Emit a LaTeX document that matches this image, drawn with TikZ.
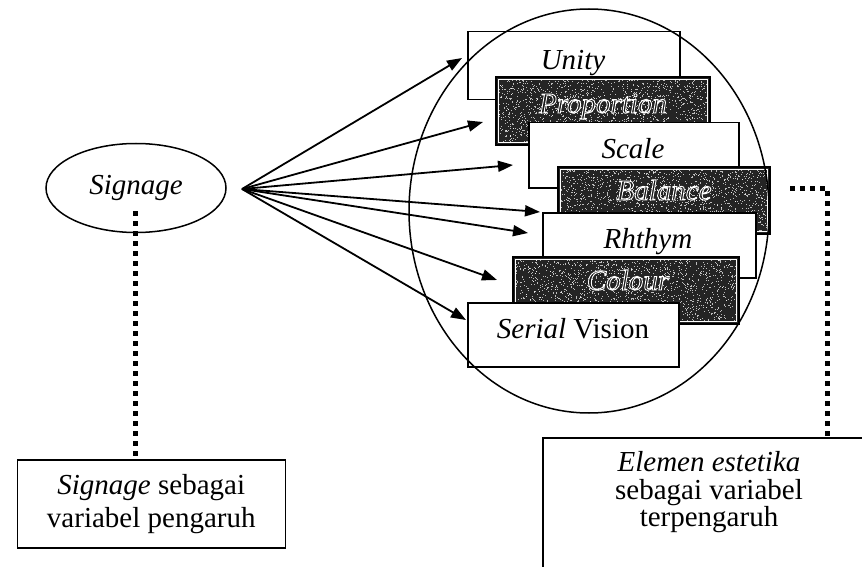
\documentclass[tikz,border=0pt]{standalone}
\usepackage{fontspec}
\setmainfont{Liberation Serif}
\usetikzlibrary{arrows.meta,shapes.geometric,calc}
\definecolor{boxdark}{gray}{0.14}
\begin{document}
\begin{tikzpicture}[x=1pt,y=-1pt,
  lbl/.style={font=\fontsize{29}{30}\selectfont},
  plainbox/.style={draw=black,line width=1.5pt,fill=white,anchor=north west,inner sep=0pt},
  darkbox/.style={draw=black,line width=1.8pt,fill=boxdark,anchor=north west,inner sep=0pt},
  arr/.style={line width=1.8pt,-{Triangle[length=15pt,width=11pt]}},
  dotline/.style={line width=5pt,dash pattern=on 5pt off 5pt},
  ring/.style={draw=black,line width=1.5pt},
  grain/.style={fill=white,opacity=0.7},
]
\useasboundingbox (0,0) rectangle (862,567);
\clip (0,0) rectangle (862,567);
\fill[white] (0,0) rectangle (862,567);
\pgfmathsetseed{4242}

% outlined lettering: dark glyph body stroked with a thin white rim
\newcommand{\rimmed}[1]{{\color{black!90}%
  \special{pdf:literal direct 2 Tr 1 1 1 RG 0.9 w}#1\special{pdf:literal direct 0 Tr}}}

% grainy finish of a dark box: inner white line plus scattered light specks
\newcommand{\grainbox}[1]{%
  \draw[white,line width=0.8pt] ([shift={(3,3)}]#1.north west) rectangle ([shift={(-3,-3)}]#1.south east);
  \begin{scope}
    \clip ([shift={(4,4)}]#1.north west) rectangle ([shift={(-4,-4)}]#1.south east);
    \path (#1.north west) coordinate (gnw) (#1.south east) coordinate (gse);
    \foreach \k in {1,...,1800}
      \fill[grain] ($(gnw)!rnd!(gnw -| gse) + (0,{rnd*70})$) rectangle ++(1,1);
  \end{scope}}

% stacked boxes, back to front
\node[plainbox,minimum width=212pt,minimum height=68pt] (unity) at (467,31) {};
\node[lbl,anchor=base] (unityt) at (573,70) {\textit{Unity}};

\node[darkbox,minimum width=214pt,minimum height=68pt] (prop) at (495,76) {};
\grainbox{prop}
\node[lbl,anchor=base] (propt) at (603,113) {\rimmed{\textit{Proportion}}};

\node[plainbox,minimum width=210pt,minimum height=65pt] (scale) at (528,122) {};
\node[lbl,anchor=base] (scalet) at (633,158) {\textit{Scale}};

\node[darkbox,minimum width=212pt,minimum height=67pt] (bal) at (557,166) {};
\grainbox{bal}
\node[lbl,anchor=base] (balt) at (664,200) {\rimmed{\textit{Balance}}};

\node[plainbox,minimum width=213pt,minimum height=65pt] (rhy) at (542,212) {};
\node[lbl,anchor=base] (rhyt) at (648,248) {\textit{Rhthym}};

\node[darkbox,minimum width=226pt,minimum height=67pt] (col) at (512,256) {};
\grainbox{col}
\node[lbl,anchor=base] (colt) at (628,290) {\rimmed{\textit{Colour}}};

\node[plainbox,minimum width=211pt,minimum height=64pt] (serial) at (467,302) {};
\node[lbl,anchor=base] (serialt) at (573,338) {\textit{Serial} Vision};

% enclosing oval
\node[ring,ellipse,minimum width=360pt,minimum height=404pt,inner sep=0pt] (group) at (589,211) {};

% independent variable
\node[ring,ellipse,minimum width=180pt,minimum height=89pt,inner sep=0pt,lbl] (sig) at (136,188) {\textit{Signage}};

\coordinate (src) at (242,189);
\coordinate (t1) at (462,58);
\coordinate (t2) at (483,122);
\coordinate (t3) at (513,165);
\coordinate (t4) at (540,212);
\coordinate (t5) at (528,233);
\coordinate (t6) at (497,280);
\coordinate (t7) at (466,320);
\foreach \t in {t1,t2,t3,t4,t5,t6,t7}
  \draw[arr] (src) -- (\t);

% variable boxes
\node[draw=black,line width=1.5pt,align=center,anchor=north east,
      minimum width=268pt,minimum height=88pt,inner sep=4pt,
      font=\fontsize{29}{33}\selectfont] (lbox) at (286,459)
      {\textit{Signage} sebagai\\variabel pengaruh};
\node[draw=black,line width=1.5pt,anchor=north west,
      minimum width=360pt,minimum height=180pt] (rbox) at (542,437) {};
\node[align=center,anchor=north,font=\fontsize{29}{27.5}\selectfont] (rtext) at (709,448)
      {\textit{Elemen estetika}\\sebagai variabel\\terpengaruh};

% dotted links
\coordinate (d1) at (135,211);
\draw[dotline] (d1) -- (d1 |- lbox.north);
\coordinate (d2) at (790,188);
\coordinate (d3) at (827,188);
\draw[dotline] (d2) -- (d3) -- (d3 |- rbox.north);
\end{tikzpicture}
\end{document}
